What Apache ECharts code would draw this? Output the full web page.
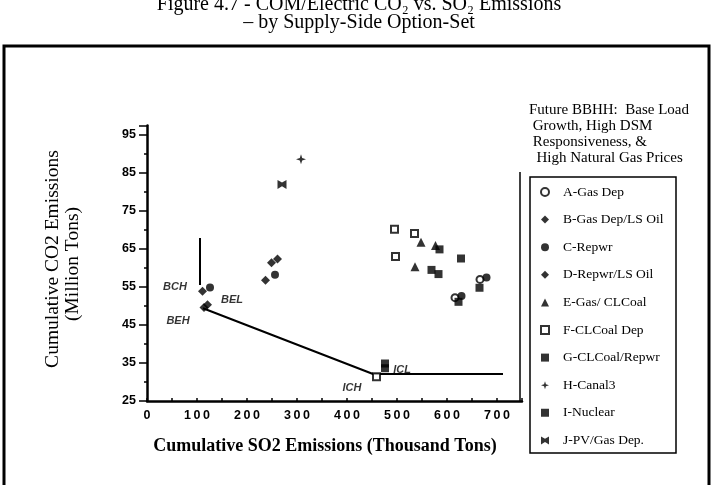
<!DOCTYPE html>
<html><head><meta charset="utf-8">
<script src="https://cdn.jsdelivr.net/npm/echarts@6/dist/echarts.min.js"></script>
<style>html,body{margin:0;padding:0;background:#fff}#c{width:718px;height:485px}</style>
</head><body><div id="c"></div>
<script>
// ---- data ----
const xTicks = [0,100,200,300,400,500,600,700];
const yTicks = [25,35,45,55,65,75,85,95];
const seriesNames = ['A-Gas Dep','B-Gas Dep/LS Oil','C-Repwr','D-Repwr/LS Oil','E-Gas/ CLCoal','F-CLCoal Dep','G-CLCoal/Repwr','H-Canal3','I-Nuclear','J-PV/Gas Dep.'];
const dataA = [[666,57.0],[616,52.2]];
const dataB = [[111,53.9],[237,56.8],[249,61.4]];
const dataC = [[126,54.9],[256,58.2],[679,57.5],[629,52.6]];
const dataD = [[114,49.6],[121,50.3],[261,62.4]];
const dataE = [[548,66.8],[577,65.9],[536,60.3]];
const dataF = [[495,70.2],[535,69.1],[497,63.0],[459,31.4]];
const dataG = [[585,64.9],[628,62.5],[569,59.5],[583,58.4],[665,54.8],[623,51.1]];
const dataH = [[308,88.6]];
const dataI = [[476,34.9],[476,33.6]];
const dataJ = [[270,82.0]];
const lineVertical = [[106,67.9],[106,55.5]];
const lineFrontier = [[112,49.4],[452,32.1],[712,32.1]];
const pointLabels = [
  {name:'BCH', value:[56,55.0]},
  {name:'BEL', value:[170,51.6]},
  {name:'BEH', value:[62,46.1]},
  {name:'ICL', value:[510,33.2]},
  {name:'ICH', value:[410,28.4]}
];
const headerLines = ['Future BBHH:  Base Load',' Growth, High DSM',' Responsiveness, &','  High Natural Gas Prices'];

// ---- styles ----
const symbols = {
  'A-Gas Dep': {symbol:'emptyCircle', size:7},
  'B-Gas Dep/LS Oil': {symbol:'diamond', size:9},
  'C-Repwr': {symbol:'circle', size:8},
  'D-Repwr/LS Oil': {symbol:'diamond', size:9},
  'E-Gas/ CLCoal': {symbol:'triangle', size:9},
  'F-CLCoal Dep': {symbol:'emptyRect', size:7},
  'G-CLCoal/Repwr': {symbol:'rect', size:8},
  'H-Canal3': {symbol:'path://M5,0L6.2,3.8L10,5L6.2,6.2L5,10L3.8,6.2L0,5L3.8,3.8Z', size:10},
  'I-Nuclear': {symbol:'path://M0,0H10V10H0Z M2,4H8V6H2Z', size:8},
  'J-PV/Gas Dep.': {symbol:'path://M0,0L5,3L10,0L10,10L5,7L0,10Z', size:9}
};
const dataSets = [dataA,dataB,dataC,dataD,dataE,dataF,dataG,dataH,dataI,dataJ];

const scatterSeries = seriesNames.map((n,i)=>({
  name:n, type:'scatter', data:dataSets[i],
  symbol:symbols[n].symbol, symbolSize:symbols[n].size,
  itemStyle:{color:'#000', borderColor:'#000', borderWidth: (symbols[n].symbol.startsWith('empty')?2:0)},
  z:5
}));

const chart = echarts.init(document.getElementById('c'), null, {renderer:'canvas'});
const option = {
  animation:false,
  backgroundColor:'#fff',
  grid:{left:147, right:196, top:125.5, bottom:84},
  xAxis:{
    type:'value', min:0, max:750, interval:100,
    axisLine:{lineStyle:{color:'#000', width:2.5}},
    axisTick:{show:true, inside:true, length:3, lineStyle:{color:'#000', width:1.5}},
    minorTick:{show:true, splitNumber:2, length:3, lineStyle:{color:'#000', width:1.5}},
    splitLine:{show:false},
    axisLabel:{showMaxLabel:false, color:'#000', fontFamily:'Liberation Sans', fontWeight:'bold', fontSize:12.5, margin:8,
      formatter:v=> xTicks.includes(v)? String(v).split('').join('\u2009'): ''}
  },
  yAxis:{
    type:'value', min:25, max:97.5, interval:10,
    axisLine:{lineStyle:{color:'#000', width:2.5}},
    axisTick:{show:true, length:8, lineStyle:{color:'#000', width:1.5}},
    minorTick:{show:true, splitNumber:2, length:3, lineStyle:{color:'#000', width:1.5}},
    splitLine:{show:false},
    axisLabel:{showMaxLabel:false, color:'#000', fontFamily:'Liberation Sans', fontWeight:'bold', fontSize:12.5, margin:11,
      formatter:v=> yTicks.includes(v)? String(v): ''}
  },
  legend:{
    orient:'vertical', left:535, top:180, itemWidth:8, itemHeight:8, itemGap:13.6,
    data:seriesNames,
    textStyle:{fontFamily:'Liberation Serif', fontSize:13.5, color:'#000', lineHeight:14, padding:[0,0,0,9]}
  },
  graphic:[
    {type:'rect', shape:{x:4, y:46, width:705, height:460}, style:{fill:null, stroke:'#000', lineWidth:3}, silent:true},
    {type:'rect', shape:{x:530, y:177, width:146, height:276}, style:{fill:null, stroke:'#000', lineWidth:1.5}, silent:true},
    {type:'line', shape:{x1:520, y1:172, x2:520, y2:401}, style:{stroke:'#000', lineWidth:1.5}, silent:true},
    {type:'text', x:359, y:5, style:{text:'Figure 4.7 - COM/Electric CO\u2082 vs. SO\u2082 Emissions', font:'20px "Liberation Serif"', fill:'#000', textAlign:'center', textVerticalAlign:'middle'}},
    {type:'text', x:359, y:23, style:{text:'\u2013 by Supply-Side Option-Set', font:'20px "Liberation Serif"', fill:'#000', textAlign:'center', textVerticalAlign:'middle'}},
    {type:'text', x:53, y:259, rotation:Math.PI/2, style:{text:'Cumulative CO2 Emissions', font:'19.5px "Liberation Serif"', fill:'#000', textAlign:'center', textVerticalAlign:'middle'}},
    {type:'text', x:73, y:264, rotation:Math.PI/2, style:{text:'(Million Tons)', font:'19.5px "Liberation Serif"', fill:'#000', textAlign:'center', textVerticalAlign:'middle'}},
    {type:'text', x:325, y:446, style:{text:'Cumulative SO2 Emissions (Thousand Tons)', font:'bold 18px "Liberation Serif"', fill:'#000', textAlign:'center', textVerticalAlign:'middle'}},
    {type:'text', x:529, y:102, style:{text:headerLines.join('\n'), font:'15px "Liberation Serif"', lineHeight:16, fill:'#000', textAlign:'left', textVerticalAlign:'top'}}
  ],
  series: scatterSeries.concat([
    {type:'line', data:lineVertical, symbol:'none', lineStyle:{color:'#000', width:2}, z:3, silent:true},
    {type:'line', data:lineFrontier, symbol:'none', lineStyle:{color:'#000', width:2}, z:3, silent:true},
    {type:'scatter', data:pointLabels, symbolSize:0, z:6, silent:true,
      label:{show:true, position:'inside', formatter:p=>p.name, color:'#000', fontFamily:'Liberation Sans', fontStyle:'italic', fontWeight:'bold', fontSize:11}}
  ])
};
chart.setOption(option);
</script>
</body></html>
